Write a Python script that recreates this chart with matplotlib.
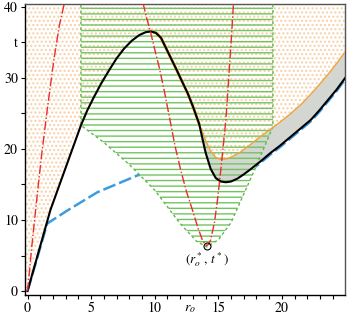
import matplotlib
matplotlib.use("Agg")
import matplotlib.pyplot as plt
from matplotlib.patches import Polygon

plt.rcParams['font.family'] = 'STIXGeneral'
plt.rcParams['mathtext.fontset'] = 'stix'
plt.rcParams['hatch.linewidth'] = 1.0

# black boundary curve
black_x = [0, 1.8, 4.2, 4.7, 5.2, 5.8, 6.4, 7.0, 7.6, 8.2, 8.8, 9.3, 9.7, 10.1, 10.5, 11.1,
           11.7, 12.2, 12.6, 13.0, 13.5, 14.0, 14.4, 14.8, 15.2, 15.6, 16.0, 16.5, 17.0,
           17.6, 18.3, 19.1, 19.9, 20.7, 21.5, 22.3, 23.0, 23.6, 24.3, 25.0]
black_y = [0, 11.4, 23.3, 25.4, 27.2, 29.2, 31.0, 32.7, 34.1, 35.2, 36.0, 36.4, 36.5, 36.3, 35.6, 33.4,
           31.2, 29.3, 27.8, 26.0, 23.5, 19.5, 17.2, 15.9, 15.4, 15.3, 15.4, 15.8, 16.4,
           17.2, 18.2, 19.4, 20.5, 21.7, 22.9, 24.1, 25.5, 26.8, 28.3, 30.0]

# orange curve (leaves the black one near x = 13.5)
orange_x = [13.5, 14.0, 14.4, 14.8, 15.2, 15.7, 16.2, 16.8, 17.6, 18.6, 19.6, 20.6, 21.6,
            22.6, 23.6, 24.4, 25.0]
orange_y = [23.5, 21.2, 19.7, 18.8, 18.5, 18.6, 19.0, 19.6, 20.7, 22.1, 23.4, 24.8, 26.4,
            28.3, 30.4, 32.2, 33.7]

# blue dashed curve
blue_x = [0, 1.55, 3.2, 5.5, 8.7, 11.0, 13.0, 15.5, 16.0, 16.5, 17.0, 17.6, 18.3, 19.1, 19.9,
          20.7, 21.5, 22.3, 23.0, 23.6, 24.3, 25.0]
blue_y = [0, 9.5, 11.4, 13.9, 16.3, 16.8, 16.4, 15.1, 15.2, 15.6, 16.2, 17.0, 18.0, 19.2, 20.3,
          21.5, 22.7, 23.9, 25.3, 26.6, 28.1, 29.8]

# red dash-dot curves
red1_x = [0, 0.35, 0.7, 1.1, 1.55, 2.07, 2.5, 2.9]
red1_y = [0, 6.5, 12.5, 19.0, 25.5, 32.5, 37.3, 40.5]
red2_x = [9.08, 9.4, 9.69, 10.0, 10.34, 10.75, 11.2, 11.6, 12.05, 12.5, 12.97, 13.4, 13.75,
          13.95, 14.1, 14.25, 14.4, 14.7, 14.94, 15.2, 15.4, 15.6, 15.75, 15.9, 16.05, 16.2]
red2_y = [40.5, 38.2, 36.3, 34.0, 31.6, 28.2, 24.1, 20.4, 17.0, 14.0, 11.4, 8.9, 7.2,
          6.6, 6.4, 6.6, 7.2, 9.6, 12.8, 17.0, 20.5, 24.1, 28.0, 32.0, 36.0, 40.5]

# green hatched region outline
green_x = [4.2, 4.2, 6.0, 8.0, 10.0, 12.0, 13.3, 14.1, 15.0, 16.0, 17.0, 18.0, 19.3, 19.3]
green_y = [41.0, 23.3, 20.9, 17.8, 14.2, 9.5, 7.0, 6.2, 7.2, 9.6, 13.6, 17.6, 23.1, 41.0]

opt_x, opt_y = 14.1, 6.3

fig = plt.figure(figsize=(3.49, 3.16), dpi=100)
ax = fig.add_axes([0.0716, 0.0665, 0.918, 0.9195])

ax.plot(blue_x, blue_y, color='#3d9be0', lw=1.8, dashes=(5.2, 1.6), zorder=1)

gpts = list(zip(green_x, green_y))
ax.add_patch(Polygon(gpts, closed=True, facecolor='white', edgecolor='none', zorder=1.5))

# gray band between orange and black
gx = orange_x + [x for x in reversed(black_x) if x >= 13.5]
gy = orange_y + [y for x, y in zip(reversed(black_x), reversed(black_y)) if x >= 13.5]
ax.fill(gx, gy, facecolor='#d4d6d1', edgecolor='none', zorder=2)

# stippled region above the upper boundary
sx = [x for x in black_x if x < 13.5] + orange_x + [25.5, 25.5, -0.5, -0.5]
sy = [y for x, y in zip(black_x, black_y) if x < 13.5] + orange_y + [33.7, 41.5, 41.5, 0]
ax.add_patch(Polygon(list(zip(sx, sy)), closed=True, facecolor='none', edgecolor='#f7d0a6',
                     lw=0, hatch='....', zorder=2.2))

ax.add_patch(Polygon(gpts, closed=True, facecolor='none', edgecolor='#72c460',
                     lw=0, hatch='---', zorder=2.5))
ax.plot(green_x, green_y, color='#5cb84a', lw=1.0, dashes=(2, 2), zorder=2.6)

ax.plot(orange_x, orange_y, color='#f0a33c', lw=1.0, zorder=3)
ax.plot(black_x[12:21], black_y[12:21], color='#f0a33c', lw=2.1, zorder=2.9)
ax.plot(black_x, black_y, color='black', lw=1.5, zorder=3.2)

ax.plot(red1_x, red1_y, color='#ee2a2a', lw=1.0, ls='-.', zorder=4)
ax.plot(red2_x, red2_y, color='#ee2a2a', lw=1.0, ls='-.', zorder=4)

ax.plot([opt_x], [opt_y], 'o', ms=5, mfc='none', mec='black', mew=0.8, zorder=5)
ax.text(opt_x, 4.4, r'$(r_o^*,\,t^*)$', ha='center', va='center', fontsize=9.5, zorder=5)

ax.set_xlim(-0.2, 25.0)
ax.set_ylim(-0.55, 40.3)

ax.set_xticks(range(0, 25))
ax.set_xticklabels([str(i) if i % 5 == 0 else '' for i in range(0, 25)])
ax.set_yticks(range(0, 41, 5))
ax.set_yticklabels(['0', '', '10', '', '20', '', '30', 't', '40'])
ax.tick_params(direction='out', length=3, width=0.8, labelsize=10, pad=2)
ax.annotate(r'$r_o$', xy=(12.8, 0), xycoords=('data', 'axes fraction'),
            xytext=(0, -5), textcoords='offset points', ha='center', va='top', fontsize=10)

for s in ax.spines.values():
    s.set_linewidth(1.0)
ax.spines['top'].set_color('#555555')
ax.spines['right'].set_color('#555555')

fig.savefig('out.png', dpi=100)
